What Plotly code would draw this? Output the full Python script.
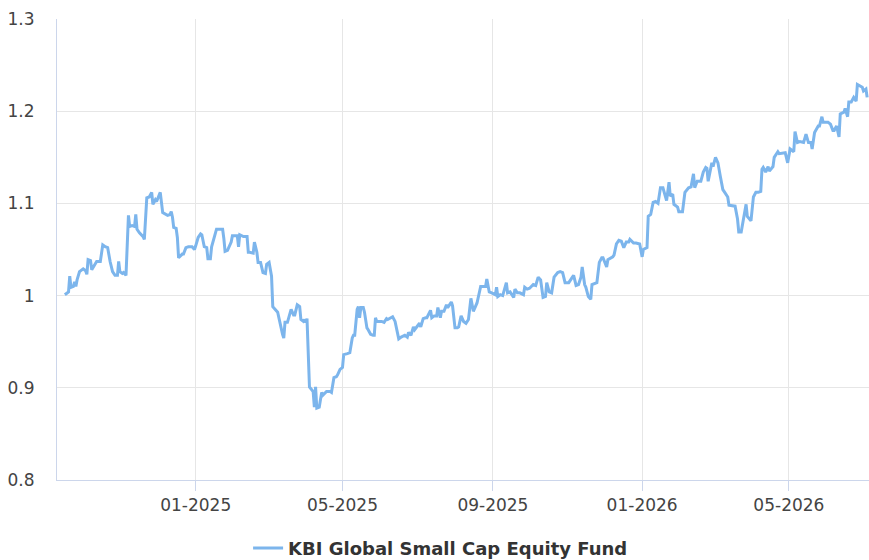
import plotly.graph_objects as go

series_name = "KBI Global Small Cap Equity Fund"

dates = [
    "2024-09-16", "2024-09-19", "2024-09-20", "2024-09-21", "2024-09-23", "2024-09-24", "2024-09-25", "2024-09-26",
    "2024-09-28", "2024-09-29", "2024-10-01", "2024-10-03", "2024-10-04", "2024-10-05", "2024-10-07", "2024-10-08",
    "2024-10-10", "2024-10-12", "2024-10-15", "2024-10-17", "2024-10-19", "2024-10-21", "2024-10-23", "2024-10-25",
    "2024-10-27", "2024-10-29", "2024-10-30", "2024-10-31", "2024-11-02", "2024-11-03", "2024-11-05", "2024-11-07",
    "2024-11-08", "2024-11-10", "2024-11-12", "2024-11-13", "2024-11-14", "2024-11-16", "2024-11-19", "2024-11-20",
    "2024-11-22", "2024-11-24", "2024-11-26", "2024-11-27", "2024-11-29", "2024-11-30", "2024-12-03", "2024-12-04",
    "2024-12-05", "2024-12-09", "2024-12-11", "2024-12-12", "2024-12-13", "2024-12-14", "2024-12-16", "2024-12-17",
    "2024-12-18", "2024-12-21", "2024-12-22", "2024-12-24", "2024-12-26", "2024-12-29", "2024-12-31", "2025-01-01",
    "2025-01-03", "2025-01-05", "2025-01-06", "2025-01-08", "2025-01-10", "2025-01-11", "2025-01-13", "2025-01-14",
    "2025-01-16", "2025-01-18", "2025-01-21", "2025-01-23", "2025-01-24", "2025-01-25", "2025-01-27", "2025-01-30",
    "2025-01-31", "2025-02-04", "2025-02-05", "2025-02-06", "2025-02-09", "2025-02-12", "2025-02-13", "2025-02-14",
    "2025-02-17", "2025-02-18", "2025-02-20", "2025-02-21", "2025-02-23", "2025-02-25", "2025-02-27", "2025-02-28",
    "2025-03-02", "2025-03-04", "2025-03-05", "2025-03-07", "2025-03-09", "2025-03-13", "2025-03-14", "2025-03-15",
    "2025-03-17", "2025-03-20", "2025-03-22", "2025-03-23", "2025-03-25", "2025-03-27", "2025-03-28", "2025-03-30",
    "2025-03-31", "2025-04-01", "2025-04-02", "2025-04-04", "2025-04-06", "2025-04-07", "2025-04-08", "2025-04-09",
    "2025-04-10", "2025-04-12", "2025-04-13", "2025-04-14", "2025-04-15", "2025-04-18", "2025-04-21", "2025-04-22",
    "2025-04-24", "2025-04-26", "2025-04-27", "2025-04-29", "2025-05-01", "2025-05-02", "2025-05-05", "2025-05-07",
    "2025-05-09", "2025-05-10", "2025-05-11", "2025-05-13", "2025-05-14", "2025-05-15", "2025-05-16", "2025-05-18",
    "2025-05-19", "2025-05-21", "2025-05-22", "2025-05-24", "2025-05-26", "2025-05-27", "2025-05-28", "2025-05-29",
    "2025-06-01", "2025-06-02", "2025-06-04", "2025-06-06", "2025-06-07", "2025-06-10", "2025-06-11", "2025-06-13",
    "2025-06-15", "2025-06-16", "2025-06-18", "2025-06-20", "2025-06-21", "2025-06-23", "2025-06-24", "2025-06-26",
    "2025-06-28", "2025-06-29", "2025-07-01", "2025-07-03", "2025-07-04", "2025-07-06", "2025-07-08", "2025-07-09",
    "2025-07-12", "2025-07-13", "2025-07-15", "2025-07-17", "2025-07-18", "2025-07-20", "2025-07-21", "2025-07-23",
    "2025-07-25", "2025-07-26", "2025-07-29", "2025-07-30", "2025-08-01", "2025-08-03", "2025-08-04", "2025-08-06",
    "2025-08-08", "2025-08-10", "2025-08-12", "2025-08-13", "2025-08-14", "2025-08-16", "2025-08-17", "2025-08-19",
    "2025-08-22", "2025-08-23", "2025-08-26", "2025-08-27", "2025-08-29", "2025-08-31", "2025-09-03", "2025-09-04",
    "2025-09-05", "2025-09-07", "2025-09-09", "2025-09-12", "2025-09-13", "2025-09-15", "2025-09-18", "2025-09-19",
    "2025-09-21", "2025-09-23", "2025-09-26", "2025-09-27", "2025-09-29", "2025-10-01", "2025-10-04", "2025-10-06",
    "2025-10-08", "2025-10-10", "2025-10-12", "2025-10-14", "2025-10-15", "2025-10-17", "2025-10-19", "2025-10-21",
    "2025-10-24", "2025-10-26", "2025-10-28", "2025-10-30", "2025-11-02", "2025-11-05", "2025-11-06", "2025-11-08",
    "2025-11-10", "2025-11-12", "2025-11-13", "2025-11-15", "2025-11-16", "2025-11-18", "2025-11-20", "2025-11-21",
    "2025-11-24", "2025-11-25", "2025-11-27", "2025-11-29", "2025-11-30", "2025-12-03", "2025-12-04", "2025-12-08",
    "2025-12-09", "2025-12-11", "2025-12-13", "2025-12-15", "2025-12-17", "2025-12-19", "2025-12-21", "2025-12-22",
    "2025-12-25", "2025-12-27", "2025-12-30", "2026-01-01", "2026-01-02", "2026-01-05", "2026-01-06", "2026-01-08",
    "2026-01-10", "2026-01-12", "2026-01-14", "2026-01-16", "2026-01-18", "2026-01-21", "2026-01-23", "2026-01-24",
    "2026-01-26", "2026-01-27", "2026-01-30", "2026-01-31", "2026-02-03", "2026-02-04", "2026-02-05", "2026-02-08",
    "2026-02-10", "2026-02-12", "2026-02-13", "2026-02-15", "2026-02-18", "2026-02-20", "2026-02-22", "2026-02-23",
    "2026-02-24", "2026-02-27", "2026-02-28", "2026-03-02", "2026-03-04", "2026-03-06", "2026-03-08", "2026-03-09",
    "2026-03-12", "2026-03-13", "2026-03-16", "2026-03-18", "2026-03-20", "2026-03-21", "2026-03-23", "2026-03-25",
    "2026-03-27", "2026-03-28", "2026-03-30", "2026-03-31", "2026-04-02", "2026-04-04", "2026-04-06", "2026-04-08",
    "2026-04-09", "2026-04-10", "2026-04-12", "2026-04-14", "2026-04-15", "2026-04-18", "2026-04-19", "2026-04-22",
    "2026-04-23", "2026-04-27", "2026-04-28", "2026-04-30", "2026-05-02", "2026-05-05", "2026-05-06", "2026-05-08",
    "2026-05-10", "2026-05-13", "2026-05-15", "2026-05-17", "2026-05-19", "2026-05-20", "2026-05-22", "2026-05-25",
    "2026-05-26", "2026-05-28", "2026-05-29", "2026-06-02", "2026-06-04", "2026-06-06", "2026-06-07", "2026-06-09",
    "2026-06-11", "2026-06-12", "2026-06-15", "2026-06-16", "2026-06-18", "2026-06-19", "2026-06-21", "2026-06-23",
    "2026-06-25", "2026-06-26", "2026-06-28", "2026-06-30", "2026-07-01", "2026-07-03", "2026-07-04",
]

values = [
    1.001, 1.004, 1.021, 1.009, 1.010, 1.015, 1.010, 1.017,
    1.026, 1.027, 1.029, 1.027, 1.023, 1.039, 1.038, 1.028,
    1.033, 1.037, 1.037, 1.055, 1.053, 1.052, 1.037, 1.026,
    1.022, 1.022, 1.037, 1.026, 1.024, 1.025, 1.022, 1.087,
    1.075, 1.076, 1.075, 1.088, 1.072, 1.068, 1.064, 1.061,
    1.106, 1.107, 1.112, 1.099, 1.104, 1.102, 1.112, 1.102,
    1.090, 1.087, 1.088, 1.091, 1.085, 1.074, 1.073, 1.063,
    1.041, 1.045, 1.045, 1.052, 1.053, 1.053, 1.050, 1.054,
    1.063, 1.067, 1.066, 1.053, 1.052, 1.040, 1.040, 1.053,
    1.064, 1.072, 1.072, 1.072, 1.062, 1.048, 1.049, 1.058,
    1.065, 1.065, 1.053, 1.066, 1.064, 1.064, 1.047, 1.047,
    1.046, 1.058, 1.047, 1.036, 1.036, 1.025, 1.024, 1.034,
    1.036, 1.021, 0.988, 0.985, 0.982, 0.958, 0.954, 0.971,
    0.971, 0.985, 0.979, 0.979, 0.990, 0.988, 0.974, 0.972,
    0.974, 0.971, 0.975, 0.901, 0.898, 0.896, 0.879, 0.901,
    0.878, 0.879, 0.887, 0.895, 0.892, 0.896, 0.896, 0.895,
    0.911, 0.912, 0.914, 0.920, 0.922, 0.936, 0.937, 0.938,
    0.954, 0.957, 0.957, 0.985, 0.988, 0.976, 0.987, 0.987,
    0.982, 0.965, 0.963, 0.958, 0.957, 0.957, 0.976, 0.972,
    0.972, 0.972, 0.971, 0.975, 0.974, 0.976, 0.977, 0.972,
    0.958, 0.953, 0.955, 0.957, 0.957, 0.955, 0.960, 0.957,
    0.966, 0.963, 0.966, 0.970, 0.966, 0.975, 0.976, 0.976,
    0.984, 0.976, 0.978, 0.978, 0.987, 0.976, 0.983, 0.983,
    0.990, 0.987, 0.993, 0.989, 0.965, 0.965, 0.966, 0.978,
    0.972, 0.970, 0.974, 0.989, 0.997, 0.983, 0.986, 0.992,
    1.010, 1.010, 1.010, 1.018, 1.004, 1.003, 1.001, 1.009,
    0.999, 1.001, 1.000, 1.014, 1.003, 1.004, 0.998, 1.007,
    1.003, 1.003, 1.001, 1.009, 1.007, 1.008, 1.012, 1.011,
    1.020, 1.017, 0.998, 0.999, 1.014, 1.004, 1.003, 1.020,
    1.025, 1.026, 1.025, 1.014, 1.014, 1.020, 1.022, 1.011,
    1.012, 1.020, 1.031, 1.012, 1.009, 0.999, 0.996, 1.012,
    1.014, 1.014, 1.036, 1.041, 1.041, 1.031, 1.039, 1.042,
    1.044, 1.056, 1.060, 1.059, 1.052, 1.058, 1.058, 1.061,
    1.057, 1.057, 1.056, 1.042, 1.050, 1.052, 1.086, 1.088,
    1.101, 1.102, 1.100, 1.117, 1.117, 1.103, 1.123, 1.108,
    1.110, 1.099, 1.096, 1.091, 1.091, 1.106, 1.112, 1.117,
    1.118, 1.132, 1.117, 1.124, 1.124, 1.134, 1.139, 1.138,
    1.124, 1.144, 1.140, 1.150, 1.144, 1.129, 1.115, 1.113,
    1.107, 1.098, 1.097, 1.097, 1.083, 1.069, 1.069, 1.086,
    1.099, 1.086, 1.083, 1.081, 1.107, 1.112, 1.112, 1.113,
    1.137, 1.139, 1.134, 1.140, 1.135, 1.140, 1.150, 1.156,
    1.154, 1.155, 1.155, 1.144, 1.159, 1.156, 1.178, 1.166,
    1.167, 1.166, 1.175, 1.166, 1.166, 1.159, 1.177, 1.184,
    1.184, 1.194, 1.188, 1.188, 1.186, 1.179, 1.179, 1.184,
    1.172, 1.197, 1.199, 1.203, 1.194, 1.210, 1.210, 1.215,
    1.211, 1.229, 1.227, 1.226, 1.222, 1.224, 1.215,
]

y_tick_vals = [0.8, 0.9, 1.0, 1.1, 1.2, 1.3]
y_tick_text = ["0.8", "0.9", "1", "1.1", "1.2", "1.3"]
x_tick_vals = ["2025-01-01", "2025-05-01", "2025-09-01", "2026-01-01", "2026-05-01"]
x_tick_text = ["01-2025", "05-2025", "09-2025", "01-2026", "05-2026"]

fig = go.Figure()
fig.add_trace(go.Scatter(
    x=dates, y=values, mode="lines", name=series_name,
    line=dict(color="#7cb5ec", width=3),
))

fig.update_layout(
    width=869, height=560,
    margin=dict(l=57, r=0, t=19, b=80, autoexpand=False),
    paper_bgcolor="white", plot_bgcolor="white",
    font=dict(family="DejaVu Sans", size=17, color="#333333"),
    showlegend=True,
    legend=dict(
        orientation="h", x=0.507, xanchor="center", xref="container",
        y=0.021, yanchor="middle", yref="container",
        font=dict(size=18, color="#333333", weight="bold"),
        itemwidth=30,
    ),
    xaxis=dict(
        type="date",
        range=["2024-09-09 14:00", "2026-07-05 12:00"],
        tickvals=x_tick_vals, ticktext=x_tick_text,
        showgrid=True, gridcolor="#e6e6e6", gridwidth=1,
        showline=True, linecolor="#ccd6eb", linewidth=1,
        ticks="outside", ticklen=10, tickcolor="#ccd6eb",
        tickfont=dict(size=17, color="#444444"),
        zeroline=False, automargin=False,
    ),
    yaxis=dict(
        range=[0.8, 1.3],
        tickvals=y_tick_vals, ticktext=y_tick_text,
        showgrid=True, gridcolor="#e6e6e6", gridwidth=1,
        showline=True, linecolor="#ccd6eb", linewidth=1,
        ticks="", ticklabelstandoff=18,
        tickfont=dict(size=17, color="#444444"),
        zeroline=False, automargin=False,
    ),
)

fig.write_html(
    "out.html",
    config={"displayModeBar": False},
    post_script="document.body.style.margin='0';",
)
